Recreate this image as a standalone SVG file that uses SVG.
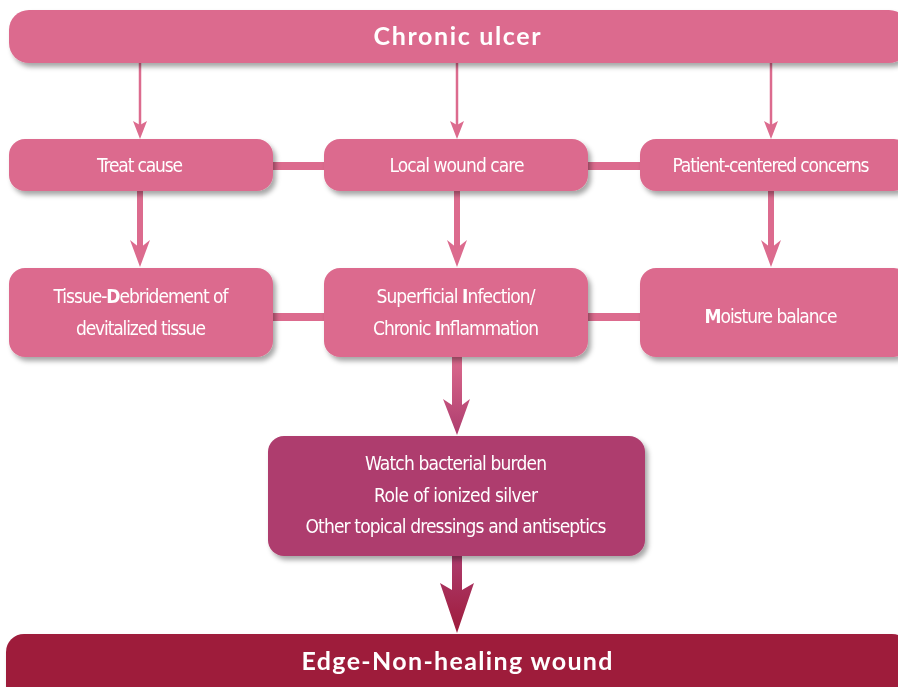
<svg xmlns="http://www.w3.org/2000/svg" width="898" height="687" viewBox="0 0 898 687">
<defs>
<filter id="sh" x="-10%" y="-20%" width="130%" height="150%">
<feGaussianBlur in="SourceAlpha" stdDeviation="2.5"/>
<feOffset dx="3" dy="4" result="b"/>
<feFlood flood-color="#000" flood-opacity="0.35"/>
<feComposite in2="b" operator="in"/>
<feMerge><feMergeNode/><feMergeNode in="SourceGraphic"/></feMerge>
</filter>
<linearGradient id="g1" x1="0" y1="0" x2="0" y2="1">
<stop offset="0" stop-color="#dc6b8e"/><stop offset="1" stop-color="#ae3d6e"/>
</linearGradient>
<linearGradient id="g2" x1="0" y1="0" x2="0" y2="1">
<stop offset="0" stop-color="#ae3d6e"/><stop offset="1" stop-color="#9e1b3b"/>
</linearGradient>
</defs>
<style>
.pk{fill:#dc6b8e}
.t{font-family:"DejaVu Sans Condensed","Liberation Sans",sans-serif;font-size:19px;fill:#fff;text-anchor:middle}
.h{font-family:Lato,"Open Sans","Liberation Sans",sans-serif;font-weight:bold;font-size:25px;fill:#fff;text-anchor:middle}
.b{font-weight:bold}
</style>
<g id="connectors">
<g fill="#dc6b8e" stroke="none">
<rect x="268" y="162" width="62" height="8"/>
<rect x="583" y="162" width="62" height="8"/>
<rect x="268" y="313" width="62" height="8"/>
<rect x="583" y="313" width="62" height="8"/>
</g>
<g stroke="#dc6b8e" stroke-width="2.5" fill="none">
<line x1="140" y1="63" x2="140" y2="126"/>
<line x1="457" y1="63" x2="457" y2="126"/>
<line x1="771" y1="63" x2="771" y2="126"/>
</g>
<g fill="#dc6b8e">
<polygon points="133,121 140,139 147,121 140,125"/>
<polygon points="450,121 457,139 464,121 457,125"/>
<polygon points="764,121 771,139 778,121 771,125"/>
</g>
<g stroke="#dc6b8e" stroke-width="6" fill="none">
<line x1="140" y1="190" x2="140" y2="248"/>
<line x1="457" y1="190" x2="457" y2="248"/>
<line x1="771" y1="190" x2="771" y2="248"/>
</g>
<g fill="#dc6b8e">
<polygon points="130,240 140,267 150,240 140,248"/>
<polygon points="447,240 457,267 467,240 457,248"/>
<polygon points="761,240 771,267 781,240 771,248"/>
</g>
<path d="M452,356 H462 V405 L470,399 L457,435 L443,399 L452,405 Z" fill="url(#g1)"/>
<path d="M452,555 H462 V590 L474,583 L457,633 L440,583 L452,590 Z" fill="url(#g2)"/>
</g>
<g id="chronic-ulcer" filter="url(#sh)">
<rect x="9" y="10" width="900" height="53" rx="20" class="pk"/>
<text x="457" y="45" class="h" textLength="167">Chronic ulcer</text>
</g>
<g id="treat-cause" filter="url(#sh)">
<rect x="9" y="139" width="264" height="52" rx="16" class="pk"/>
<text x="140" y="172" class="t" textLength="86">Treat cause</text>
</g>
<g id="local-wound-care" filter="url(#sh)">
<rect x="324" y="139" width="264" height="52" rx="16" class="pk"/>
<text x="457" y="172" class="t" textLength="135">Local wound care</text>
</g>
<g id="patient-centered" filter="url(#sh)">
<rect x="640" y="139" width="270" height="52" rx="16" class="pk"/>
<text x="771" y="172" class="t" textLength="197">Patient-centered concerns</text>
</g>
<g id="debridement" filter="url(#sh)">
<rect x="9" y="268" width="264" height="89" rx="16" class="pk"/>
<text x="141" y="303" class="t" textLength="175">Tissue-<tspan class="b">D</tspan>ebridement of</text>
<text x="141" y="335" class="t" textLength="130">devitalized tissue</text>
</g>
<g id="infection" filter="url(#sh)">
<rect x="324" y="268" width="264" height="89" rx="16" class="pk"/>
<text x="456" y="303" class="t" textLength="159">Superficial <tspan class="b">I</tspan>nfection/</text>
<text x="456" y="335" class="t" textLength="166">Chronic <tspan class="b">I</tspan>nflammation</text>
</g>
<g id="moisture" filter="url(#sh)">
<rect x="640" y="268" width="270" height="89" rx="16" class="pk"/>
<text x="771" y="323" class="t" textLength="133"><tspan class="b">M</tspan>oisture balance</text>
</g>
<g id="bacterial" filter="url(#sh)">
<rect x="268" y="436" width="377" height="120" rx="16" fill="#ae3d6e"/>
<text x="456" y="470" class="t" textLength="182">Watch bacterial burden</text>
<text x="456" y="502" class="t" textLength="164">Role of ionized silver</text>
<text x="456" y="533" class="t" textLength="301">Other topical dressings and antiseptics</text>
</g>
<g id="edge" filter="url(#sh)">
<rect x="6" y="634" width="904" height="70" rx="18" fill="#9e1b3b"/>
<text x="457" y="670" class="h" textLength="311">Edge-Non-healing wound</text>
</g>
</svg>
